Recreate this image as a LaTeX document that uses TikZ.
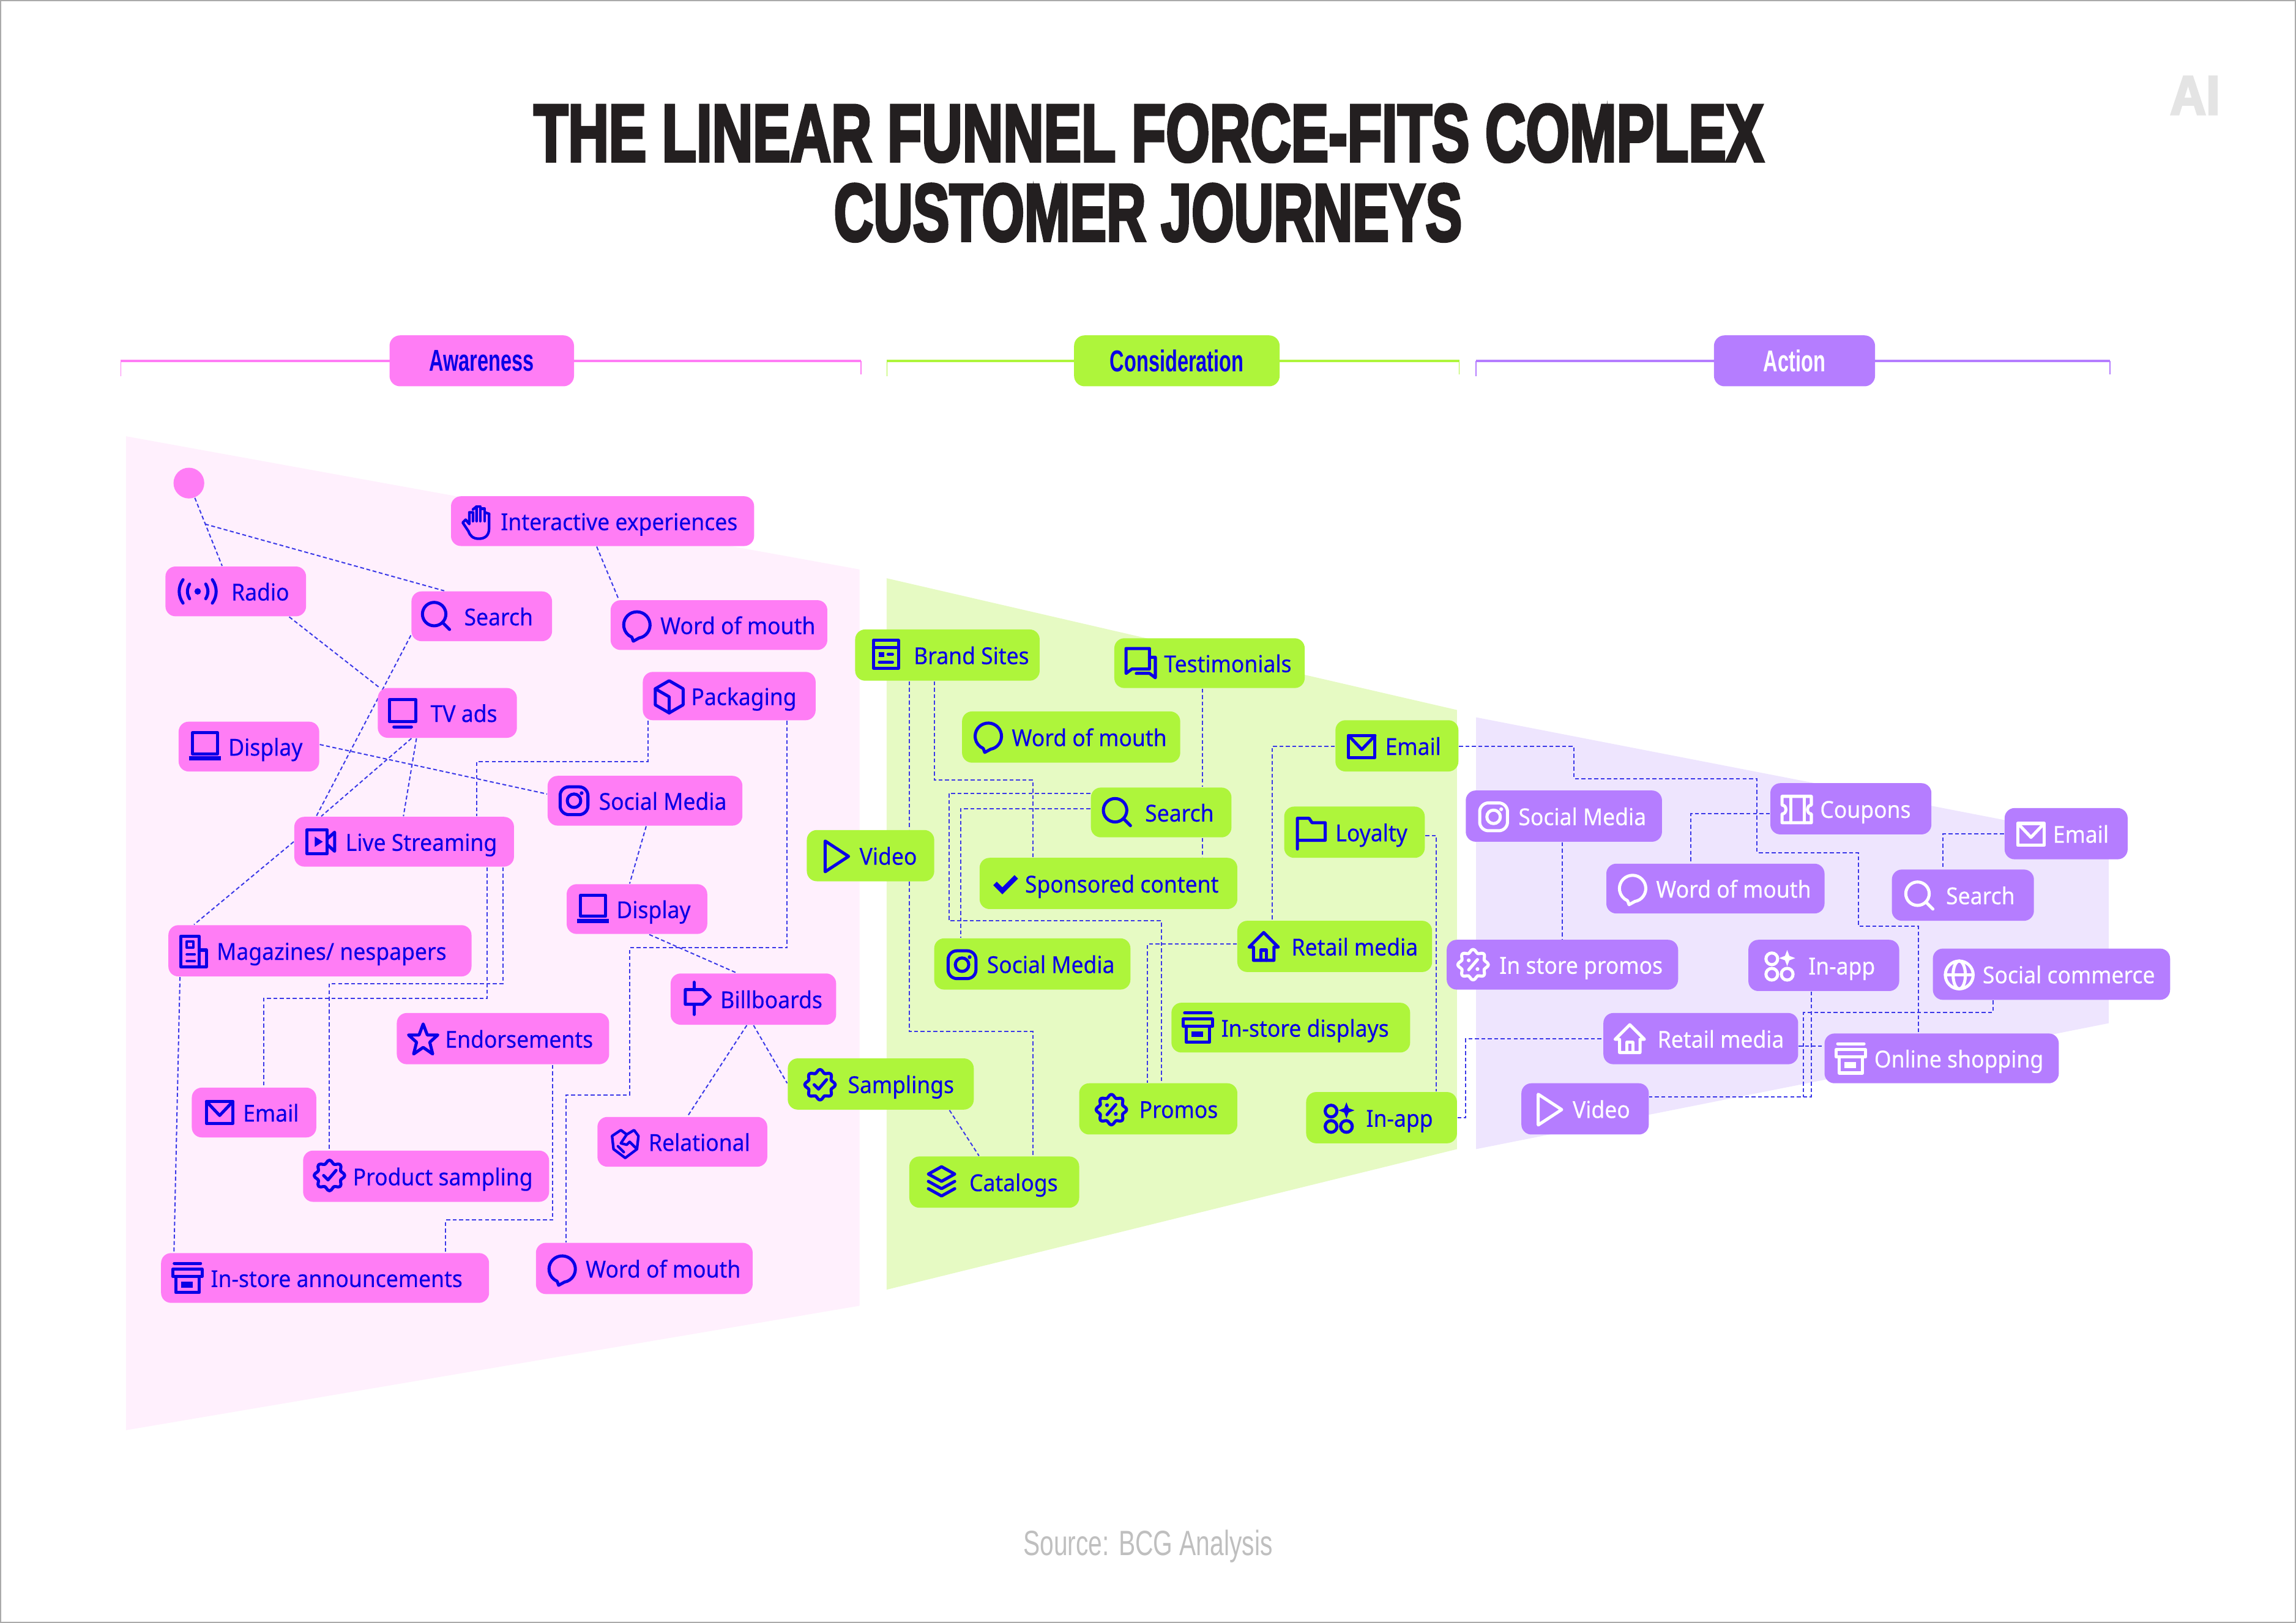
\documentclass[tikz,border=0pt]{standalone}
\usepackage{fontspec}
\usepackage{graphicx}
\usetikzlibrary{backgrounds}
\setmainfont{Noto Sans}
\newfontfamily\chipfont[FakeBold=0.3,FakeStretch=0.93]{Noto Sans}
\newfontfamily\condfont[FakeStretch=0.66]{Liberation Sans}
\newfontfamily\srcfont[FakeStretch=0.71]{Liberation Sans}
\newfontfamily\titlef[BoldFeatures={FakeBold=4}]{Liberation Sans}
\definecolor{chipP}{HTML}{FF7DF5}
\definecolor{paleP}{HTML}{FFF0FD}
\definecolor{chipG}{HTML}{AEF53B}
\definecolor{paleG}{HTML}{E6FAC3}
\definecolor{chipV}{HTML}{B57DFF}
\definecolor{paleV}{HTML}{EEE5FE}
\definecolor{inkB}{HTML}{0A00E6}
\definecolor{lineB}{HTML}{3A38E8}
\definecolor{titleK}{HTML}{231F20}
\tikzset{
  chipbase/.style={rectangle,rounded corners=3.4pt,inner sep=0pt,text height=7.9pt,text depth=1.7pt,font=\chipfont\fontsize{7.98pt}{9pt}\selectfont},
  ps/.style={chipbase,fill=chipP,text=inkB},
  gs/.style={chipbase,fill=chipG,text=inkB},
  vs/.style={chipbase,fill=chipV,text=white},
  conn/.style={draw=lineB,line width=0.42pt,dash pattern=on 1.35pt off 0.85pt},
  ic/.style={line width=1.05pt,line join=round,line cap=round},
  secbtn/.style={rectangle,rounded corners=3.6pt,inner sep=0pt,minimum height=17.4pt,font=\condfont\bfseries\fontsize{10.3pt}{12pt}\selectfont},
  bar/.style={line width=0.8pt},
  tick/.style={line width=0.35pt},
  ibadge/.pic={\draw[ic] plot[domain=0:352.5,samples=48,smooth cycle] ({(9.3+1.1*cos(8*\x))*cos(\x)},{(9.3+1.1*cos(8*\x))*sin(\x)}); \draw[ic] (-4,0)--(-1,3)--(4.5,-3.5);},
  ipromo/.pic={\draw[ic] plot[domain=0:352.5,samples=48,smooth cycle] ({(9.3+1.1*cos(8*\x))*cos(\x)},{(9.3+1.1*cos(8*\x))*sin(\x)}); \draw[ic] (3,-3.5)--(-3,3.5); \fill (-3,-3) circle[radius=1.3]; \fill (3,3) circle[radius=1.3];},
  isearch/.pic={\draw[ic] (-1.5,-1.5) circle[radius=8]; \draw[ic] (4.2,4.2)--(9,9);},
  ibubble/.pic={\draw[ic] (-3.5,8.3) -- (-2.5,11) -- (1.5,8.8) arc[start angle=80,end angle=-247,radius=9];},
  itv/.pic={\draw[ic] (-9,-9) rectangle (9,6); \draw[ic] (-6,9.5)--(6,9.5);},
  ilaptop/.pic={\draw[ic] (-8.5,-9.5) rectangle (8.5,5); \draw[ic,line width=1.5pt,line cap=butt] (-11,8)--(11,8);},
  ibox/.pic={\draw[ic] (0,-11)--(9.5,-5.5)--(9.5,5.5)--(0,11)--(-9.5,5.5)--(-9.5,-5.5)--cycle; \draw[ic] (-9.5,-5.5)--(0,0)--(0,11);},
  iinsta/.pic={\draw[ic,rounded corners=3pt] (-9.5,-9.5) rectangle (9.5,9.5); \draw[ic] (0,0) circle[radius=4.6]; \fill (5.2,-5.2) circle[radius=1.3];},
  icam/.pic={\draw[ic] (-9.5,-8) rectangle (4.5,8); \fill (-4,-3.5)--(1.5,0)--(-4,3.5)--cycle; \draw[ic] (4.5,-2)--(9.5,-6.5)--(9.5,6.5)--(4.5,2);},
  inews/.pic={\draw[ic] (4,10.5)--(-8.5,10.5)--(-8.5,-10.5)--(4,-10.5)--(4,10.5)--(9,10.5)--(9,-1)--(4,-1); \draw[ic,line width=.8pt] (-4.5,-7) rectangle (0,-2.5); \draw[ic,line width=.8pt] (-4.5,2)--(1,2); \draw[ic,line width=.8pt] (-4.5,6.5)--(1,6.5);},
  isign/.pic={\draw[ic] (-8,-6)--(4,-6)--(9,-1)--(4,4)--(-8,4)--cycle; \draw[ic] (-2,-11)--(-2,-6); \draw[ic] (-2,4)--(-2,11);},
  istar/.pic={\draw[ic] (0,-10.5)--(2.8,-3)--(10,-3)--(4.5,2)--(6.5,10)--(0,5.5)--(-6.5,10)--(-4.5,2)--(-10,-3)--(-2.8,-3)--cycle;},
  imail/.pic={\draw[ic] (-9,-7.5) rectangle (9,7.5); \draw[ic] (-9,-7.5)--(0,2)--(9,-7.5);},
  ishake/.pic={\draw[ic,line width=.9pt] (-9,-5)--(-3,-9)--(1,-6)--(6,-9)--(9,-5)--(8,4)--(0,10)--(-8,4)--cycle; \draw[ic,line width=.9pt] (1,-6)--(-3,0)--(1,1)--(3,-1)--(7,3); \draw[ic,line width=.9pt] (-5,2)--(-1,6);},
  istore/.pic={\draw[ic] (-9,-10)--(9,-10); \draw[ic] (-10,-6) rectangle (10,-1); \draw[ic] (-8,-1) rectangle (8,10); \fill (-4.5,2.5) rectangle (3.5,6.5);},
  ihand/.pic={\draw[ic,line width=.9pt] (8,-6)--(8,4) .. controls (8,9) and (5,11) .. (1,11) .. controls (-3,11) and (-5,9) .. (-6,6)--(-10,0)--(-8,-2)--(-5.5,1)--(-5.5,-7)--(-3,-7)--(-3,-1); \draw[ic,line width=.9pt] (-3,-9)--(-0.5,-11)--(-0.5,-1); \draw[ic,line width=.9pt] (-0.5,-11)--(2,-11)--(2,-1); \draw[ic,line width=.9pt] (2,-9.5)--(5,-9.5)--(5,-1); \draw[ic,line width=.9pt] (5,-7)--(8,-6);},
  iplay/.pic={\draw[ic] (-7.5,-10.5)--(8.5,0)--(-7.5,10.5)--cycle;},
  ichat/.pic={\draw[ic] (-10,8)--(-10,-9)--(6,-9)--(6,5)--(-6,5)--cycle; \draw[ic] (6,-3)--(10,-3)--(10,11)--(6,8)--(-3,8);},
  iflag/.pic={\draw[ic] (-9,11)--(-9,-10)--(-1,-10)--(1,-7)--(10,-7)--(10,5)--(-9,5);},
  ihouse/.pic={\draw[ic] (0,-10)--(10,0)--(7,0)--(7,9)--(-7,9)--(-7,0)--(-10,0)--cycle; \draw[ic] (-2,9)--(-2,2)--(2,2)--(2,9);},
  icheck/.pic={\draw[line width=1.7pt,line cap=butt] (-7.5,-0.5)--(-2.5,4.5)--(7,-5);},
  iapps/.pic={\draw[ic] (-5,-5) circle[radius=4]; \draw[ic] (-5,5.5) circle[radius=4]; \draw[ic] (5.5,5.5) circle[radius=4]; \fill (5.5,-11)--(7,-7)--(11,-5.5)--(7,-4)--(5.5,0)--(4,-4)--(0,-5.5)--(4,-7)--cycle;},
  ilayers/.pic={\draw[ic] (0,-10)--(9,-5)--(0,0)--(-9,-5)--cycle; \draw[ic] (-9,0)--(0,5)--(9,0); \draw[ic] (-9,5)--(0,10)--(9,5);},
  iticket/.pic={\draw[ic] (-10,-9)--(10,-9)--(10,-3) .. controls (6.5,-3) and (6.5,3) .. (10,3)--(10,9)--(-10,9)--(-10,3) .. controls (-6.5,3) and (-6.5,-3) .. (-10,-3)--cycle; \draw[ic] (-4,-9)--(-4,9); \draw[ic] (5,-9)--(5,9);},
  iglobe/.pic={\draw[ic] (0,0) circle[radius=9.5]; \draw[ic] (-9.5,0)--(9.5,0); \draw[ic] (0,0) ellipse[x radius=4.2,y radius=9.5];},
  ibrand/.pic={\draw[ic] (-8.5,-9.5) rectangle (8.5,9.5); \draw[ic] (-8.5,-4.5)--(8.5,-4.5); \fill (-4.8,-1.5) rectangle (-1,2); \draw[ic] (1.5,0)--(4.5,0); \draw[ic] (-4.5,5.5)--(4.5,5.5);},
  iradio/.pic={\fill (0,0) circle[radius=2.2]; \draw[ic] (-5.5,-5) .. controls (-7.5,-1.5) and (-7.5,1.5) .. (-5.5,5); \draw[ic] (5.5,-5) .. controls (7.5,-1.5) and (7.5,1.5) .. (5.5,5); \draw[ic] (-10,-8) .. controls (-13.5,-3) and (-13.5,3) .. (-10,8); \draw[ic] (10,-8) .. controls (13.5,-3) and (13.5,3) .. (10,8);},
}
% #1 style, #2 name, (x0,y0,x1,y1), #7 text start, #8 label
\def\chip#1#2(#3,#4,#5,#6)#7#8{%
  \pgfmathsetmacro\cw{(#5-#3)*0.5}\pgfmathsetmacro\ch{(#6-#4)*0.5}\pgfmathsetmacro\co{(#7-#3)*0.5}%
  \node[#1,minimum width=\cw pt,minimum height=\ch pt] (#2) at ({(#3+#5)/2},{(#4+#6)/2}) {\makebox[\cw pt][l]{\hspace{\co pt}#8}};}
\def\ico#1(#2,#3){\pic[color=\ink] at (#2,#3) {#1};}
\begin{document}
\begin{tikzpicture}[x=0.5pt,y=-0.5pt]
\useasboundingbox (0,0) rectangle (1568,1108.7);
\draw[color={rgb,255:red,170;green,170;blue,170},line width=0.35pt] (0.4,0.4) rectangle (1567.6,1108.3);
% title
\node[text=titleK,inner sep=0pt] (t1) at (784.5,91) {\resizebox{420pt}{19.3pt}{\titlef\bfseries\fontsize{24pt}{26pt}\selectfont THE LINEAR FUNNEL FORCE-FITS COMPLEX}};
\node[text=titleK,inner sep=0pt] (t2) at (784,145.3) {\resizebox{214.5pt}{19.3pt}{\titlef\bfseries\fontsize{24pt}{26pt}\selectfont CUSTOMER JOURNEYS}};
\node[text={rgb,255:red,228;green,228;blue,228},inner sep=0pt] (logo) at (1499,65.2) {\resizebox{17pt}{12.9pt}{\titlef\bfseries AI}};
\node[text={rgb,255:red,191;green,191;blue,191},inner sep=0pt,font=\srcfont\fontsize{12pt}{13pt}\selectfont] (src) at (784,1056.5) {Source: BCG Analysis};
% section headers
\coordinate (aL) at (82.5,246.7); \coordinate (aR) at (588,246.7);
\coordinate (cL) at (605.7,246.7); \coordinate (cR) at (996.5,246.7);
\coordinate (dL) at (1008,246.7); \coordinate (dR) at (1441,246.7);
\draw[bar,chipP] (aL)--(aR);
\draw[bar,chipG] (cL)--(cR);
\draw[bar,chipV] (dL)--(dR);
\draw[tick,chipP] (aL)--++(0,10.5); \draw[tick,chipP] (aR)--++(0,9);
\draw[tick,chipG] (cL)--++(0,10.5); \draw[tick,chipG] (cR)--++(0,9);
\draw[tick,chipV] (dL)--++(0,10.5); \draw[tick,chipV] (dR)--++(0,9);
\node[secbtn,fill=chipP,text=inkB,minimum width=63pt] (secA) at (329,246.5) {Awareness};
\node[secbtn,fill=chipG,text=inkB,minimum width=70.2pt] (secC) at (803.7,246.5) {Consideration};
\node[secbtn,fill=chipV,text=white,minimum width=55pt] (secD) at (1225.5,246.5) {Action};
% pink chips
\def\ink{inkB}
\node[circle,fill=chipP,minimum size=10.5pt,inner sep=0pt] (dot) at (129,330) {};
\chip{ps}{pInter}(308,339,515,373){342}{Interactive experiences}\ico{ihand}(326,357)
\chip{ps}{pRadio}(113,387,209,421){158}{Radio}\ico{iradio}(135,404)
\chip{ps}{pSearch}(281,404,377,438){317}{Search}\ico{isearch}(298,421)
\chip{ps}{pWord}(417,410,565,444){451}{Word of mouth}\ico{ibubble}(435,427)
\chip{ps}{pTV}(258,470,353,504){294}{TV ads}\ico{itv}(275,487)
\chip{ps}{pPack}(439,459,557,492){472}{Packaging}\ico{ibox}(457,476)
\chip{ps}{pDisp}(122,493,218,527){156}{Display}\ico{ilaptop}(140,510)
\chip{ps}{pSoc}(374,530,507,564){409}{Social Media}\ico{iinsta}(392,547)
\chip{ps}{pLive}(201,558,351,592){236}{Live Streaming}\ico{icam}(219,575)
\chip{ps}{pDispB}(387,604,483,638){421}{Display}\ico{ilaptop}(405,621)
\chip{ps}{pMag}(115,632,322,667){148}{Magazines/ nespapers}\ico{inews}(132,650)
\chip{ps}{pBill}(458,665,571,700){492}{Billboards}\ico{isign}(476,682)
\chip{ps}{pEnd}(271,692,416,727){304}{Endorsements}\ico{istar}(289,710)
\chip{ps}{pMail}(131,743,216,777){166}{Email}\ico{imail}(150,760)
\chip{ps}{pRel}(408,763,524,797){443}{Relational}\ico{ishake}(427,781)
\chip{ps}{pProd}(207,786,375,821){241}{Product sampling}\ico{ibadge}(225,803)
\chip{ps}{pStore}(110,856,334,890){144}{In-store announcements}\ico{istore}(128,873)
\chip{ps}{pWordB}(366,849,514,884){400}{Word of mouth}\ico{ibubble}(384,867)
% green chips
\chip{gs}{gBrand}(584,430,710,465){624}{Brand Sites}\ico{ibrand}(605,447)
\chip{gs}{gTest}(761,436,891,470){795}{Testimonials}\ico{ichat}(779,452)
\chip{gs}{gWord}(657,486,806,521){691}{Word of mouth}\ico{ibubble}(675,503)
\chip{gs}{gMail}(912,492,996,527){946}{Email}\ico{imail}(930,510)
\chip{gs}{gSearch}(745,538,841,572){782}{Search}\ico{isearch}(763,555)
\chip{gs}{gLoy}(877,551,973,586){912}{Loyalty}\ico{iflag}(895,569)
\chip{gs}{gVideo}(551,567,638,602){587}{Video}\ico{iplay}(571,585)
\chip{gs}{gSpon}(669,586,845,621){700}{Sponsored content}\ico{icheck}(687,604)
\chip{gs}{gRetail}(845,629,978,664){882}{Retail media}\ico{ihouse}(863,647)
\chip{gs}{gSoc}(638,641,772,676){674}{Social Media}\ico{iinsta}(657,659)
\chip{gs}{gDisp}(800,685,963,719){834}{In-store displays}\ico{istore}(818,702)
\chip{gs}{gSamp}(538,723,665,758){579}{Samplings}\ico{ibadge}(560,741)
\chip{gs}{gPromo}(737,740,845,775){778}{Promos}\ico{ipromo}(759,758)
\chip{gs}{gApp}(892,746,995,781){933}{In-app}\ico{iapps}(914,764)
\chip{gs}{gCat}(621,790,737,825){662}{Catalogs}\ico{ilayers}(643,807)
% purple chips
\def\ink{white}
\chip{vs}{vSoc}(1001,540,1135,575){1037}{Social Media}\ico{iinsta}(1020,558)
\chip{vs}{vCoup}(1209,535,1319,570){1243}{Coupons}\ico{iticket}(1227,553)
\chip{vs}{vMail}(1369,552,1453,587){1402}{Email}\ico{imail}(1387,570)
\chip{vs}{vWord}(1097,590,1246,624){1131}{Word of mouth}\ico{ibubble}(1115,607)
\chip{vs}{vSearch}(1292,594,1389,629){1329}{Search}\ico{isearch}(1311,612)
\chip{vs}{vPromo}(988,642,1146,676){1024}{In store promos}\ico{ipromo}(1006,659)
\chip{vs}{vApp}(1194,642,1297,677){1235}{In-app}\ico{iapps}(1215,660)
\chip{vs}{vComm}(1320,648,1482,683){1354}{Social commerce}\ico{iglobe}(1338,666)
\chip{vs}{vRetail}(1095,692,1228,727){1132}{Retail media}\ico{ihouse}(1113,710)
\chip{vs}{vShop}(1246,706,1406,740){1280}{Online shopping}\ico{istore}(1264,723)
\chip{vs}{vVideo}(1039,740,1126,775){1074}{Video}\ico{iplay}(1058,758)
% funnels and connectors, under the chips
\begin{scope}[on background layer]
\fill[paleP] (86,298)--(587,389)--(587,892)--(86,977)--cycle;
\fill[paleG] (605.5,395)--(995,485)--(995,785)--(605.5,881)--cycle;
\fill[paleV] (1008,490)--(1440,574)--(1440,699)--(1008,785)--cycle;
\coordinate (dotb) at (140,358);
\draw[conn] (dot)--(pRadio.north -| 151.7,0);
\draw[conn] (dotb)--(pSearch.north -| 303.4,0);
\draw[conn] (pInter.south -| 407.5,0)--(pWord.north -| 422.6,0);
\draw[conn] (pRadio.south -| 197.5,0)--(pTV.north -| 259,0);
\draw[conn] (pSearch.west |- 0,434)--(pLive.north -| 216,0);
\draw[conn] (pTV.south -| 281,0)--(pLive.north -| 219.4,0);
\draw[conn] (pTV.south -| 284.4,0)--(pLive.north -| 275.5,0);
\draw[conn] (pDisp.east |- 0,508.6)--(pSoc.west |- 0,542.4);
\draw[conn] (pSoc.south -| 441.3,0)--(pDispB.north -| 430,0);
\draw[conn] (pDispB.south -| 443.4,0)--(pBill.north -| 503,0);
\draw[conn] (pLive.west |- 0,575)--(pMag.north -| 132.5,0);
\draw[conn] (pBill.south -| 510,0)--(pRel.north -| 469.5,0);
\draw[conn] (pBill.south -| 514.6,0)--(gSamp.west |- 0,740);
\draw[conn] (gSamp.south -| 648.4,0)--(gCat.north -| 668.6,0);
\draw[conn] (pPack.south -| 442.6,0)--(442.6,520.3)--(325.7,520.3)--(pLive.north -| 325.7,0);
\draw[conn] (pPack.south -| 537.6,0)--(537.6,647.5)--(430,647.5)--(430,748)--(386.7,748)--(pWordB.north -| 386.7,0);
\draw[conn] (pLive.south -| 332.8,0)--(332.8,682.2)--(180,682.2)--(pMail.north -| 180,0);
\draw[conn] (pLive.south -| 343.4,0)--(343.4,671.8)--(225,671.8)--(pProd.north -| 225,0);
\draw[conn] (pMag.south -| 122.9,0)--(pStore.north -| 118.8,0);
\draw[conn] (pEnd.south -| 377.4,0)--(377.4,833.5)--(304.4,833.5)--(pStore.north -| 304.4,0);
\draw[conn] (gBrand.south -| 620.8,0)--(gVideo.north -| 620.8,0);
\draw[conn] (gVideo.south -| 620.8,0)--(620.8,704.6)--(705.4,704.6)--(gCat.north -| 705.4,0);
\draw[conn] (gBrand.south -| 638,0)--(638,532.8)--(705.4,532.8)--(gSpon.north -| 705.4,0);
\draw[conn] (gSearch.west |- 0,541.9)--(648,541.9)--(648,629)--(793,629)--(gPromo.north -| 793,0);
\draw[conn] (gSearch.west |- 0,552.3)--(656.3,552.3)--(gSoc.north -| 656.3,0);
\draw[conn] (gTest.south -| 821,0)--(gSearch.north -| 821,0);
\draw[conn] (gSearch.south -| 821,0)--(gSpon.north -| 821,0);
\draw[conn] (gRetail.west |- 0,645)--(783.6,645)--(gPromo.north -| 783.6,0);
\draw[conn] (gMail.west |- 0,509.7)--(868.8,509.7)--(gRetail.north -| 868.8,0);
\draw[conn] (gLoy.east |- 0,571)--(981,571)--(gApp.north -| 981,0);
\draw[conn] (gApp.east |- 0,763.6)--(1001,763.6)--(1001,709.5)--(vRetail.west |- 0,709.5);
\draw[conn] (gMail.east |- 0,510)--(1075,510)--(1075,532)--(1200,532)--(1200,582.4)--(1269,582.4)--(1269,632.5)--(1310,632.5)--(vShop.north -| 1310,0);
\draw[conn] (vCoup.west |- 0,556)--(1154.5,556)--(vWord.north -| 1154.5,0);
\draw[conn] (vSoc.south -| 1067,0)--(vPromo.north -| 1067,0);
\draw[conn] (vMail.west |- 0,569.6)--(1327,569.6)--(vSearch.north -| 1327,0);
\draw[conn] (vApp.south -| 1237,0)--(1237,749.3)--(vVideo.east |- 0,749.3);
\draw[conn] (vComm.south -| 1361,0)--(1361,691.6)--(1231.7,691.6)--(1231.7,749.3);
\draw[conn] (vRetail.east |- 0,714.6)--(vShop.west |- 0,714.6);
\end{scope}
\end{tikzpicture}
\end{document}
